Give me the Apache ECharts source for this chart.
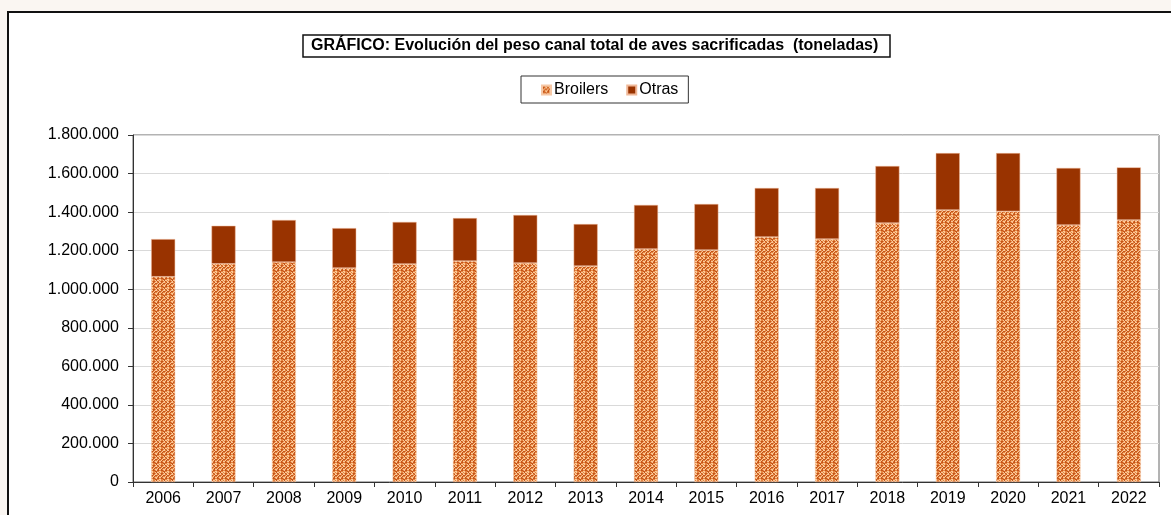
<!DOCTYPE html>
<html>
<head>
<meta charset="utf-8">
<script src="https://cdn.jsdelivr.net/npm/echarts@6/dist/echarts.min.js"></script>
<style>
  html, body { margin: 0; padding: 0; background: #faf6f2; }
  #chart { width: 1171px; height: 515px; }
</style>
</head>
<body>
<div id="chart"></div>
<script>
// años y toneladas
var years = ['2006', '2007', '2008', '2009', '2010', '2011', '2012', '2013', '2014',
  '2015', '2016', '2017', '2018', '2019', '2020', '2021', '2022']
var broilers = [1065000, 1132000, 1141000, 1110000, 1131000, 1146000, 1136000, 1120000, 1209000,
  1203000, 1271000, 1260000, 1343000, 1411000, 1404000, 1333000, 1359000]
var totales = [1260000, 1329000, 1359000, 1317000, 1349000, 1369000, 1385000, 1338000, 1437000,
  1442000, 1525000, 1525000, 1639000, 1706000, 1706000, 1629000, 1632000]
var otras = totales.map(function (t, i) { return t - broilers[i] })

// trama tipo tejido para Broilers
function makePattern() {
  var rows = [
    'abbaLaab',
    'bLLbaLba',
    'aLbaabLa',
    'LbaLLbaL',
    'baLbbaLb',
    'aLbaabLa',
    'bLLbaLLb',
    'abbLLbba'
  ]
  var cols = { a: '#fbc898', b: '#e4843f', L: '#c4541a' }
  var c = document.createElement('canvas')
  c.width = 8
  c.height = 8
  var ctx = c.getContext('2d')
  rows.forEach(function (r, y) {
    for (var x = 0; x < 8; x++) {
      ctx.fillStyle = cols[r[x]]
      ctx.fillRect(x, y, 1, 1)
    }
  })
  return c
}

var myChart = echarts.init(document.getElementById('chart'))
var option = {
  backgroundColor: '#faf6f2',
  textStyle: { fontFamily: 'Liberation Sans, Arial, sans-serif' },
  graphic: [{
    type: 'rect',
    z: -10,
    shape: { x: 8, y: 12, width: 1200, height: 540 },
    style: { fill: '#ffffff', stroke: '#111', lineWidth: 2 }
  }],
  title: {
    text: 'GRÁFICO: Evolución del peso canal total de aves sacrificadas  (toneladas)',
    left: 303,
    top: 35,
    padding: [3, 12, 3, 8],
    borderColor: '#111',
    borderWidth: 1.5,
    textStyle: { fontSize: 16, fontWeight: 'bold', color: '#000', fontFamily: 'Liberation Sans, Arial, sans-serif' }
  },
  legend: {
    left: 521,
    top: 76,
    padding: [6, 10, 5, 20],
    borderColor: '#333',
    borderWidth: 1,
    itemWidth: 9,
    itemHeight: 9,
    itemGap: 18,
    icon: 'rect',
    textStyle: { fontSize: 16, color: '#000', padding: [0, 0, 0, -2] },
    data: ['Broilers', 'Otras']
  },
  grid: {
    left: 133,
    right: 12,
    top: 135,
    bottom: 33,
    show: true,
    borderColor: '#666',
    borderWidth: 1
  },
  xAxis: {
    type: 'category',
    data: years,
    axisLine: { lineStyle: { color: '#333' } },
    axisTick: { show: true, length: 5, lineStyle: { color: '#333' } },
    axisLabel: { fontSize: 16, color: '#000', margin: 9 }
  },
  yAxis: {
    type: 'value',
    min: 0,
    max: 1800000,
    interval: 200000,
    axisLine: { show: true, lineStyle: { color: '#333' } },
    axisTick: { show: true, length: 5, lineStyle: { color: '#333' } },
    splitLine: { lineStyle: { color: '#d9d9d9' } },
    axisLabel: {
      fontSize: 16,
      color: '#000',
      margin: 14,
      formatter: function (v) { return v.toString().replace(/\B(?=(\d{3})+(?!\d))/g, '.') }
    }
  },
  series: [
    {
      name: 'Broilers',
      type: 'bar',
      stack: 'total',
      barWidth: 24,
      data: broilers,
      itemStyle: {
        color: { image: makePattern(), repeat: 'repeat' },
        borderColor: '#f6c8a6',
        borderWidth: 0.5
      }
    },
    {
      name: 'Otras',
      type: 'bar',
      stack: 'total',
      barWidth: 24,
      data: otras,
      itemStyle: { color: '#993300', borderColor: '#f0b898', borderWidth: 0.5 }
    }
  ]
}
myChart.setOption(option)
</script>
</body>
</html>
